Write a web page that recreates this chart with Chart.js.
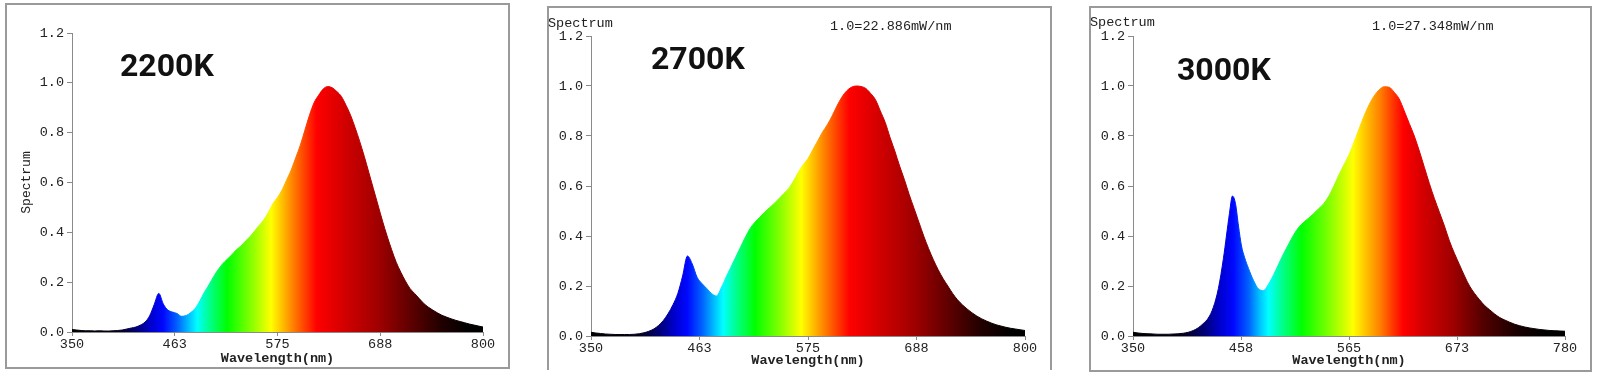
<!DOCTYPE html>
<html>
<head>
<meta charset="utf-8">
<script src="https://cdn.jsdelivr.net/npm/chart.js@4.4.0/dist/chart.umd.min.js"></script>
<style>
  html, body { margin: 0; padding: 0; background: #fff; }
  body { width: 1600px; height: 377px; position: relative; overflow: hidden; }
  .box { position: absolute; border: 2px solid #9a9a9a; box-sizing: border-box; }
  canvas { position: absolute; }
</style>
</head>
<body>
<div class="box" style="left:5px;top:3px;width:505px;height:366px;"></div>
<div class="box" style="left:547px;top:6px;width:505px;height:364px;border-bottom:none;"></div>
<div class="box" style="left:1089px;top:6px;width:503px;height:366px;"></div>

<canvas id="c1" width="503" height="364" style="left:6px;top:4px;"></canvas>
<canvas id="c2" width="502" height="362" style="left:548px;top:8px;"></canvas>
<canvas id="c3" width="502" height="362" style="left:1090px;top:8px;"></canvas>

<script>
// ── Data ──────────────────────────────────────────────────────────────────────

const wl800 = [
  350, 355, 360, 365, 370, 375, 380, 385, 390, 395,
  400, 405, 410, 415, 420, 425, 430, 435, 440, 445,
  450, 455, 460, 465, 470, 475, 480, 485, 490, 495,
  500, 505, 510, 515, 520, 525, 530, 535, 540, 545,
  550, 555, 560, 565, 570, 575, 580, 585, 590, 595,
  600, 605, 610, 615, 620, 625, 630, 635, 640, 645,
  650, 655, 660, 665, 670, 675, 680, 685, 690, 695,
  700, 705, 710, 715, 720, 725, 730, 735, 740, 745,
  750, 755, 760, 765, 770, 775, 780, 785, 790, 795,
  800
];

const spec2200 = [
  0.010, 0.008, 0.006, 0.005, 0.005, 0.004, 0.005, 0.004, 0.004, 0.005,
  0.006, 0.008, 0.012, 0.016, 0.020, 0.028, 0.040, 0.065, 0.110, 0.155,
  0.112, 0.088, 0.080, 0.074, 0.063, 0.066, 0.078, 0.095, 0.125, 0.160,
  0.190, 0.222, 0.250, 0.274, 0.292, 0.310, 0.330, 0.345, 0.365, 0.383,
  0.405, 0.428, 0.450, 0.480, 0.515, 0.540, 0.570, 0.610, 0.650, 0.700,
  0.750, 0.810, 0.870, 0.920, 0.950, 0.975, 0.985, 0.980, 0.965, 0.945,
  0.910, 0.870, 0.820, 0.765, 0.705, 0.640, 0.575, 0.510, 0.445, 0.385,
  0.330, 0.280, 0.240, 0.205, 0.175, 0.155, 0.135, 0.115, 0.100, 0.088,
  0.077, 0.067, 0.060, 0.053, 0.047, 0.042, 0.037, 0.032, 0.028, 0.024,
  0.020
];

const spec2700 = [
  0.015, 0.012, 0.010, 0.008, 0.007, 0.006, 0.006, 0.006, 0.006, 0.007,
  0.009, 0.013, 0.019, 0.028, 0.042, 0.062, 0.090, 0.125, 0.170, 0.240,
  0.320, 0.288, 0.235, 0.210, 0.190, 0.170, 0.160, 0.192, 0.235, 0.275,
  0.315, 0.355, 0.395, 0.430, 0.455, 0.475, 0.495, 0.513, 0.530, 0.550,
  0.570, 0.590, 0.620, 0.655, 0.685, 0.710, 0.745, 0.780, 0.815, 0.845,
  0.880, 0.920, 0.955, 0.980, 0.995, 1.000, 0.998, 0.990, 0.970, 0.945,
  0.900, 0.855, 0.795, 0.740, 0.680, 0.625, 0.565, 0.510, 0.455, 0.400,
  0.350, 0.305, 0.265, 0.230, 0.200, 0.170, 0.145, 0.125, 0.108, 0.093,
  0.080, 0.069, 0.060, 0.052, 0.045, 0.040, 0.035, 0.031, 0.028, 0.025,
  0.022
];

const wl780 = [
  350, 355, 360, 365, 370, 375, 380, 385, 390, 395,
  400, 405, 410, 415, 420, 425, 430, 435, 440, 443,
  446, 449, 452, 455, 458, 461, 465, 470, 475, 480,
  485, 490, 495, 500, 505, 510, 515, 520, 525, 530,
  535, 540, 545, 550, 555, 560, 565, 570, 575, 580,
  585, 590, 595, 600, 605, 610, 615, 620, 625, 630,
  635, 640, 645, 650, 655, 660, 665, 670, 675, 680,
  685, 690, 695, 700, 705, 710, 715, 720, 725, 730,
  735, 740, 745, 750, 755, 760, 765, 770, 775, 780
];

const spec3000 = [
  0.015, 0.012, 0.010, 0.009, 0.008, 0.007, 0.007, 0.007, 0.008, 0.009,
  0.011, 0.015, 0.022, 0.033, 0.050, 0.072, 0.115, 0.190, 0.310, 0.400,
  0.490, 0.560, 0.530, 0.440, 0.360, 0.315, 0.270, 0.222, 0.188, 0.182,
  0.208, 0.245, 0.288, 0.330, 0.368, 0.405, 0.435, 0.455, 0.472, 0.490,
  0.510, 0.530, 0.560, 0.600, 0.645, 0.685, 0.725, 0.775, 0.828, 0.880,
  0.925, 0.960, 0.985, 0.997, 0.995, 0.975, 0.948, 0.900, 0.850, 0.800,
  0.740, 0.675, 0.610, 0.550, 0.495, 0.440, 0.380, 0.330, 0.285, 0.240,
  0.200, 0.170, 0.145, 0.122, 0.105, 0.088, 0.074, 0.064, 0.055, 0.047,
  0.041, 0.036, 0.032, 0.029, 0.026, 0.024, 0.022, 0.021, 0.020, 0.019
];

const xTicks800 = [350, 462.5, 575, 687.5, 800];
const xTicks780 = [350, 457.5, 565, 672.5, 780];
const yTicks = [0, 0.2, 0.4, 0.6, 0.8, 1.0, 1.2];

// ── Colour ramp (wavelength → colour) ────────────────────────────────────────

const rampWarm = [
  [350, '#000000'], [400, '#050018'], [420, '#000070'], [437, '#0000d0'],
  [450, '#0008ff'], [465, '#0060ff'], [478, '#00c0ff'], [487, '#00ffff'],
  [500, '#00ff90'], [520, '#00ff00'], [545, '#80ff00'], [568, '#ffff00'],
  [580, '#ffc000'], [592, '#ff8000'], [605, '#ff4000'], [618, '#ff0000'],
  [650, '#d00000'], [685, '#a00000'], [720, '#600000'], [755, '#200000'],
  [785, '#000000'], [800, '#000000']
];

const rampCool = [
  [350, '#000000'], [400, '#050018'], [420, '#000070'], [437, '#0000d0'],
  [450, '#0008ff'], [465, '#0060ff'], [476, '#00c0ff'], [485, '#00ffff'],
  [498, '#00ff90'], [518, '#00ff00'], [545, '#80ff00'], [569, '#ffff00'],
  [582, '#ffc000'], [596, '#ff8000'], [607, '#ff4000'], [619, '#ff0000'],
  [640, '#d00000'], [668, '#a00000'], [700, '#500000'], [735, '#140000'],
  [760, '#000000'], [780, '#000000']
];

function spectrumFill(ramp) {
  return ctx => {
    const chart = ctx.chart;
    if (!chart.chartArea) return '#000';
    const x = chart.scales.x;
    const g = chart.ctx.createLinearGradient(x.left, 0, x.right, 0);
    ramp.forEach(([w, col]) => {
      const t = (w - x.min) / (x.max - x.min);
      if (t >= 0 && t <= 1) g.addColorStop(t, col);
    });
    return g;
  };
}

// ── Text overlay plugin ───────────────────────────────────────────────────────

function textOverlay(items) {
  return {
    id: 'textOverlay',
    afterDraw(chart) {
      const c = chart.ctx;
      c.save();
      items.forEach(it => {
        c.font = it.font;
        c.fillStyle = it.color || '#111';
        c.textAlign = 'left';
        c.textBaseline = 'middle';
        c.fillText(it.text, it.x, it.y);
      });
      c.restore();
    }
  };
}

const MONO = "'Liberation Mono', 'DejaVu Sans Mono', monospace";
const AXIS = '#8a8a8a';

function makeChart(id, wl, values, ticks, ramp, opt) {
  const points = wl.map((w, i) => ({ x: w, y: values[i] }));
  return new Chart(document.getElementById(id), {
    type: 'line',
    data: {
      datasets: [{
        data: points,
        fill: 'origin',
        backgroundColor: spectrumFill(ramp),
        borderColor: spectrumFill(ramp),
        borderWidth: 1,
        pointRadius: 0,
        cubicInterpolationMode: 'monotone',
      }]
    },
    options: {
      responsive: false,
      animation: false,
      events: [],
      layout: { padding: { left: 0, top: opt.padTop, right: opt.padRight, bottom: 0 } },
      plugins: { legend: { display: false }, tooltip: { enabled: false } },
      scales: {
        x: {
          type: 'linear',
          min: ticks[0], max: ticks[ticks.length - 1],
          afterBuildTicks: s => { s.ticks = ticks.map(v => ({ value: v })); },
          afterFit: s => { s.height = opt.xHeight; },
          grid: { drawOnChartArea: false, drawTicks: true, tickLength: 4, color: AXIS },
          border: { display: true, color: AXIS, width: 1 },
          ticks: {
            color: '#222', padding: 0, maxRotation: 0, autoSkip: false,
            font: { family: MONO, size: 13.5 },
            callback: v => String(Math.round(v)),
          },
          title: {
            display: true, text: 'Wavelength(nm)', color: '#222',
            font: { family: MONO, size: 13.5, weight: 'bold' },
            padding: { top: 0, bottom: 1 },
          },
        },
        y: {
          min: 0, max: 1.2,
          afterBuildTicks: s => { s.ticks = yTicks.map(v => ({ value: v })); },
          afterFit: s => { s.width = opt.yWidth; },
          grid: { drawOnChartArea: false, drawTicks: true, tickLength: 5, color: AXIS },
          border: { display: true, color: AXIS, width: 1 },
          ticks: {
            color: '#222', padding: 3,
            font: { family: MONO, size: 13.5 },
            callback: v => v.toFixed(1),
          },
          title: {
            display: !!opt.yTitle, text: 'Spectrum', color: '#222',
            font: { family: MONO, size: 13 },
            padding: { top: 13, bottom: 0 },
          },
        },
      },
    },
    plugins: [textOverlay(opt.labels)],
  });
}

const BIG = "bold 32px Roboto, 'Liberation Sans', sans-serif";
const SMALL = "13.5px " + MONO;

makeChart('c1', wl800, spec2200, xTicks800, rampWarm, {
  padTop: 29, padRight: 26, xHeight: 36, yWidth: 66, yTitle: true,
  labels: [{ text: '2200K', x: 114, y: 64, font: BIG }],
});

makeChart('c2', wl800, spec2700, xTicks800, rampWarm, {
  padTop: 28, padRight: 25, xHeight: 34, yWidth: 43, yTitle: false,
  labels: [
    { text: '2700K', x: 103, y: 53, font: BIG },
    { text: 'Spectrum', x: 0, y: 15, font: SMALL, color: '#222' },
    { text: '1.0=22.886mW/nm', x: 282, y: 18, font: SMALL, color: '#222' },
  ],
});

makeChart('c3', wl780, spec3000, xTicks780, rampCool, {
  padTop: 28, padRight: 27, xHeight: 34, yWidth: 43, yTitle: false,
  labels: [
    { text: '3000K', x: 87, y: 64, font: BIG },
    { text: 'Spectrum', x: 0, y: 14, font: SMALL, color: '#222' },
    { text: '1.0=27.348mW/nm', x: 282, y: 18, font: SMALL, color: '#222' },
  ],
});
</script>
</body>
</html>
